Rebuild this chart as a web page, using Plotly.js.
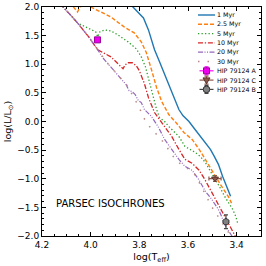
<!DOCTYPE html>
<html>
<head>
<meta charset="utf-8">
<script src="https://cdn.plot.ly/plotly-3.0.1.min.js"></script>
<style>html,body{margin:0;padding:0;background:#fff;}#chart{width:266px;height:266px;}</style>
</head>
<body>
<div id="chart"></div>
<script>
// ---- Data (log Teff, log L/Lsun) ----
const teff_1myr = [3.842,3.808,3.783,3.7625,3.7375,3.717,3.696,3.675,3.654,3.6375,3.621,3.596,3.571,3.529,3.508,3.492,3.475,3.458,3.442,3.425];
const lum_1myr  = [2.070,1.913,1.809,1.600,1.252,1.043,0.817,0.591,0.383,0.209,0.104,0.0,-0.139,-0.365,-0.487,-0.609,-0.748,-0.957,-1.130,-1.304];

const teff_2p5myr = [4.0875,4.054,4.029,4.0,3.958,3.917,3.8625,3.821,3.792,3.771,3.75,3.729,3.708,3.679,3.646,3.617,3.583,3.554,3.529,3.508,3.4875,3.467,3.45,3.433,3.421];
const lum_2p5myr  = [2.087,1.913,2.122,2.0,1.913,1.826,1.652,1.548,1.391,1.2,0.904,0.591,0.348,0.122,-0.035,-0.191,-0.313,-0.487,-0.661,-0.8,-0.957,-1.096,-1.2,-1.322,-1.426];

const teff_5myr = [4.125,4.1125,4.083,4.054,4.029,4.0,3.979,3.971,3.9625,3.942,3.917,3.8875,3.846,3.8125,3.792,3.775,3.758,3.742,3.729,3.717,3.696,3.679,3.6375,3.6125,3.592,3.571,3.55,3.529,3.508,3.4875,3.467,3.45,3.433,3.417,3.404,3.396];
const lum_5myr  = [2.052,2.0,1.861,1.722,1.670,1.609,1.565,1.478,1.565,1.6,1.583,1.513,1.391,1.270,1.130,0.957,0.678,0.383,0.209,0.070,0.0,-0.087,-0.261,-0.435,-0.487,-0.539,-0.609,-0.713,-0.870,-1.009,-1.165,-1.304,-1.426,-1.530,-1.652,-1.774];

const teff_10myr = [4.125,4.1125,4.083,4.054,4.008,3.971,3.942,3.917,3.896,3.875,3.867,3.858,3.846,3.829,3.8125,3.8,3.7875,3.779,3.7625,3.75,3.7375,3.717,3.696,3.667,3.6375,3.6125,3.583,3.554,3.529,3.5,3.471,3.45,3.429,3.404];
const lum_10myr  = [2.052,2.0,1.861,1.722,1.478,1.252,1.183,1.130,1.043,0.957,0.922,0.991,1.026,1.026,0.974,0.887,0.765,0.661,0.417,0.278,0.157,0.035,-0.087,-0.261,-0.487,-0.661,-0.730,-0.852,-1.026,-1.252,-1.496,-1.652,-1.826,-2.017];

const teff_20myr = [4.125,4.1125,4.083,4.054,4.008,3.971,3.95,3.929,3.9,3.875,3.854,3.842,3.829,3.817,3.804,3.792,3.779,3.75,3.721,3.696,3.667,3.6375,3.6125,3.583,3.554,3.529,3.5,3.471,3.446,3.417];
const lum_20myr  = [2.052,2.0,1.861,1.722,1.478,1.252,1.113,1.009,0.870,0.748,0.643,0.539,0.522,0.470,0.365,0.330,0.209,0.087,-0.104,-0.313,-0.487,-0.661,-0.783,-0.852,-1.026,-1.217,-1.374,-1.565,-1.826,-2.017];

const teff_30myr = [4.125,4.1125,4.083,4.054,4.008,3.971,3.929,3.875,3.846,3.825,3.8,3.783,3.758,3.729,3.7,3.675,3.65,3.617,3.583,3.567,3.546,3.525,3.504,3.483,3.458,3.433,3.421];
const lum_30myr  = [2.052,2.0,1.861,1.722,1.478,1.252,1.009,0.748,0.609,0.435,0.243,0.070,-0.087,-0.226,-0.365,-0.522,-0.678,-0.783,-0.870,-0.957,-1.130,-1.304,-1.478,-1.617,-1.774,-1.930,-2.017];

const starNames = ["HIP 79124 A","HIP 79124 C","HIP 79124 B"];
const starTeff  = [3.972, 3.489, 3.444];
const starLum   = [1.426, -0.997, -1.751];
const starTeffErr = [0.010, 0.025, 0.010];
const starLumErr  = [0.030, 0.050, 0.120];

const isoNames = ["1 Myr","2.5 Myr","5 Myr","10 Myr","20 Myr","30 Myr"];

// ---- Styles ----
const FONT = "DejaVu Sans, Liberation Sans, sans-serif";
const W = 266, H = 266, M = {l:42, r:5, t:7, b:30};
const isoStyles = [
  {color:"#1f77b4", dash:"solid", width:1.4},
  {color:"#ff7f0e", dash:"4px,2px", width:1.4},
  {color:"#2ca02c", dash:"1.3px,2.2px", width:1.3},
  {color:"#d62728", dash:"5px,1.8px,1.3px,1.8px", width:1.3},
  {color:"#9467bd", dash:"5px,1.5px,1px,1.5px,1px,1.5px", width:1.2},
  {color:"#b98a84", dash:"1.5px,8px", width:1.5}
];
const starStyles = [
  {symbol:"square", color:"#ee00ee", line:"#990099", size:6, err:"#ff00ff"},
  {symbol:"triangle-down", color:"#8c564b", line:"#5a3328", size:6, err:"#8c564b"},
  {symbol:"octagon", color:"#808080", line:"#333333", size:6.5, err:"#444444"}
];

const isoX = [teff_1myr,teff_2p5myr,teff_5myr,teff_10myr,teff_20myr,teff_30myr];
const isoY = [lum_1myr,lum_2p5myr,lum_5myr,lum_10myr,lum_20myr,lum_30myr];

const traces = [];
isoNames.forEach((n,i)=>{
  traces.push({x:isoX[i], y:isoY[i], name:n, mode:"lines", type:"scatter",
    line:{color:isoStyles[i].color, dash:isoStyles[i].dash, width:isoStyles[i].width}, showlegend:false, hoverinfo:"skip"});
});
starNames.forEach((n,i)=>{
  traces.push({x:[starTeff[i]], y:[starLum[i]], name:n, mode:"markers", type:"scatter",
    marker:{symbol:starStyles[i].symbol, size:starStyles[i].size, color:starStyles[i].color, line:{color:starStyles[i].line, width:1}},
    error_x:{type:"data", array:[starTeffErr[i]], color:starStyles[i].err, thickness:1.2, width:2},
    error_y:{type:"data", array:[starLumErr[i]], color:starStyles[i].err, thickness:1.2, width:2},
    showlegend:false});
});

// ---- Custom compact legend in paper coordinates ----
const PW = W - M.l - M.r, PH = H - M.t - M.b;
const px2x = p => (p - M.l) / PW;
const py2y = p => (H - M.b - p) / PH;
const LEG = {x0:198, x1:215, tx:216, y0:15, dy:9.3, fs:6.3};
const shapes = [];
const annotations = [];
const allNames = isoNames.concat(starNames);
allNames.forEach((n,k)=>{
  const yy = py2y(LEG.y0 + k*LEG.dy);
  const xa = px2x(LEG.x0), xb = px2x(LEG.x1), xc = px2x((LEG.x0+LEG.x1)/2);
  if (k < isoNames.length) {
    const s = isoStyles[k];
    shapes.push({type:"line", xref:"paper", yref:"paper", x0:xa, x1:xb, y0:yy, y1:yy,
      line:{color:s.color, dash:s.dash, width:s.width}});
  } else {
    const s = starStyles[k-isoNames.length];
    const base = {xref:"paper", yref:"paper", xsizemode:"pixel", ysizemode:"pixel", xanchor:xc, yanchor:yy};
    shapes.push(Object.assign({type:"line", x0:-7, x1:7, y0:0, y1:0, line:{color:s.err, width:1.2}}, base));
    shapes.push(Object.assign({type:"line", x0:0, x1:0, y0:-4, y1:4, line:{color:s.err, width:1.2}}, base));
    shapes.push(Object.assign({type:"line", x0:-2, x1:2, y0:4, y1:4, line:{color:s.err, width:1.2}}, base));
    shapes.push(Object.assign({type:"line", x0:-2, x1:2, y0:-4, y1:-4, line:{color:s.err, width:1.2}}, base));
    if (s.symbol === "square") {
      shapes.push(Object.assign({type:"rect", x0:-3, x1:3, y0:-3, y1:3, fillcolor:s.color, line:{color:s.line, width:1}}, base));
    } else if (s.symbol === "triangle-down") {
      shapes.push(Object.assign({type:"path", path:"M-3.5,2.2 L3.5,2.2 L0,-3.6 Z", fillcolor:s.color, line:{color:s.line, width:1}}, base));
    } else {
      shapes.push(Object.assign({type:"circle", x0:-3.3, x1:3.3, y0:-3.3, y1:3.3, fillcolor:s.color, line:{color:s.line, width:1}}, base));
    }
  }
  annotations.push({xref:"paper", yref:"paper", x:px2x(LEG.tx), y:yy, text:n, showarrow:false, xanchor:"left", yanchor:"middle",
    borderpad:0, font:{family:FONT, size:LEG.fs, color:"#000"}});
});

annotations.push({xref:"x", yref:"y", x:4.15, y:-1.44, text:"PARSEC ISOCHRONES", showarrow:false,
  xanchor:"left", yanchor:"middle", font:{family:FONT, size:10, color:"#000"}});

const axisCommon = {showline:true, linecolor:"#000", linewidth:1, mirror:"allticks", ticks:"inside",
  ticklen:4, tickwidth:1, tickcolor:"#000", showgrid:false, zeroline:false, tickformat:".1f",
  tickfont:{family:FONT, size:9, color:"#000"}};

const layout = {
  width:W, height:H,
  margin:{l:M.l, r:M.r, t:M.t, b:M.b, pad:0},
  paper_bgcolor:"#fff", plot_bgcolor:"#fff",
  font:{family:FONT, color:"#000"},
  showlegend:false,
  xaxis:Object.assign({}, axisCommon, {range:[4.2,3.3], dtick:0.2, tick0:0,
    minor:{dtick:0.05, ticks:"inside", ticklen:2, tickcolor:"#000", tickwidth:1},
    title:{text:"log(T<sub>eff</sub>)", font:{family:FONT, size:9.5, color:"#000"}, standoff:4}}),
  yaxis:Object.assign({}, axisCommon, {range:[-2,2], dtick:0.5, tick0:0,
    minor:{dtick:0.1, ticks:"inside", ticklen:2, tickcolor:"#000", tickwidth:1},
    title:{text:"log(L/L<sub>⊙</sub>)", font:{family:FONT, size:9.5, color:"#000"}, standoff:4}}),
  shapes:shapes,
  annotations:annotations
};

Plotly.newPlot("chart", traces, layout, {staticPlot:true, displayModeBar:false});
</script>
</body>
</html>
